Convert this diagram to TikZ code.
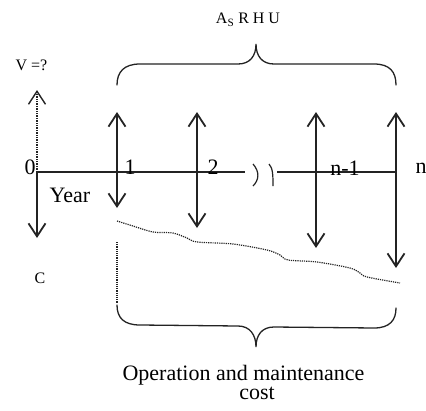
\documentclass[tikz,border=0pt]{standalone}
\usepackage{fontspec}
\setmainfont{Liberation Serif}
\usepackage{tikz}
\usetikzlibrary{arrows.meta}
\definecolor{FlowInk}{RGB}{35,35,35}

\begin{document}
\begin{tikzpicture}[x=1pt,y=-1pt,>={Straight Barb[length=13pt,width=17pt]},
  flow/.style={->,line width=1.8pt,FlowInk},
  brace/.style={line width=1.3pt,FlowInk,line cap=round},
  dots/.style={densely dotted,line width=1.2pt,FlowInk},
  big/.style={font=\fontsize{22}{26}\selectfont,inner sep=1pt},
  small/.style={font=\fontsize{16}{19}\selectfont,inner sep=1pt}]
  \useasboundingbox (0,0) rectangle (426,410);

  % Time axis
  \coordinate (Y0) at (37,172);
  \coordinate (BrkL) at (245,172);
  \coordinate (BrkR) at (277,172);
  \coordinate (Yend) at (396,172);
  \draw[line width=1.3pt,FlowInk] (Y0) -- (BrkL);
  \draw[line width=1.3pt,FlowInk] (BrkR) -- (Yend);
  \draw[line width=1.2pt,FlowInk] (253,164) .. controls (260,172) and (259,180) .. (253,186);
  \draw[line width=1.2pt,FlowInk] (269,164) .. controls (273,168) and (273,176) .. (273,186);

  % Year 0
  \draw[->,densely dotted,line width=1.4pt,FlowInk] (Y0) -- ++(0,-82);
  \draw[flow] (Y0) -- ++(0,66);
  \node[big] (t0) at (30,167) {0};
  \node[big] (year) at (70,195) {Year};
  \node[small] (value) at (31.5,65.5) {V =?};
  \node[small] (capital) at (40,278) {C};

  % Years 1 .. n
  \foreach \i/\x/\d in {1/117/36,2/197/56,3/316/76,4/396/96} {
    \coordinate (Y\i) at (\x,172);
    \draw[flow] (Y\i) -- ++(0,-60);
    \draw[flow] (Y\i) -- ++(0,\d);
  }
  \node[big] (t1) at (130,167) {1};
  \node[big] (t2) at (213,167) {2};
  \node[big] (tn1) at (345,168) {n-1};
  \node[big] (tn) at (421,168) {n};

  % Benefits
  \draw[brace] (117,85) .. controls (117,72) and (124,64) .. (140,64) -- (238,64)
    .. controls (250,64) and (256,56) .. (256,44)
    .. controls (256,56) and (262,64) .. (274,64) -- (374,64)
    .. controls (390,64) and (396,72) .. (396,85);
  \node[small] (benefit) at (248,20) {A\textsubscript{S} R H U};

  % Operation and maintenance
  \draw[dots] plot[smooth,tension=0.5] coordinates {(117,221) (133,226) (153,232)
    (173,233) (187,238) (197,242) (233,244) (267,250) (280,255) (288,260)
    (317,262) (350,268) (360,273) (367,277) (400,283)};
  \draw[dots] (117,242) -- (117,303);
  \draw[brace] (117,305) .. controls (117,318) and (124,325) .. (140,325) -- (238,326)
    .. controls (250,326) and (256,335) .. (256,347)
    .. controls (256,335) and (262,327) .. (274,327) -- (374,328)
    .. controls (390,328) and (396,320) .. (396,308);
  \node[font=\fontsize{22}{17}\selectfont,align=center,inner sep=0pt,anchor=base]
    (opcost) at (243.5,399) {Operation and maintenance\\\hspace*{27pt}cost};
\end{tikzpicture}
\end{document}
